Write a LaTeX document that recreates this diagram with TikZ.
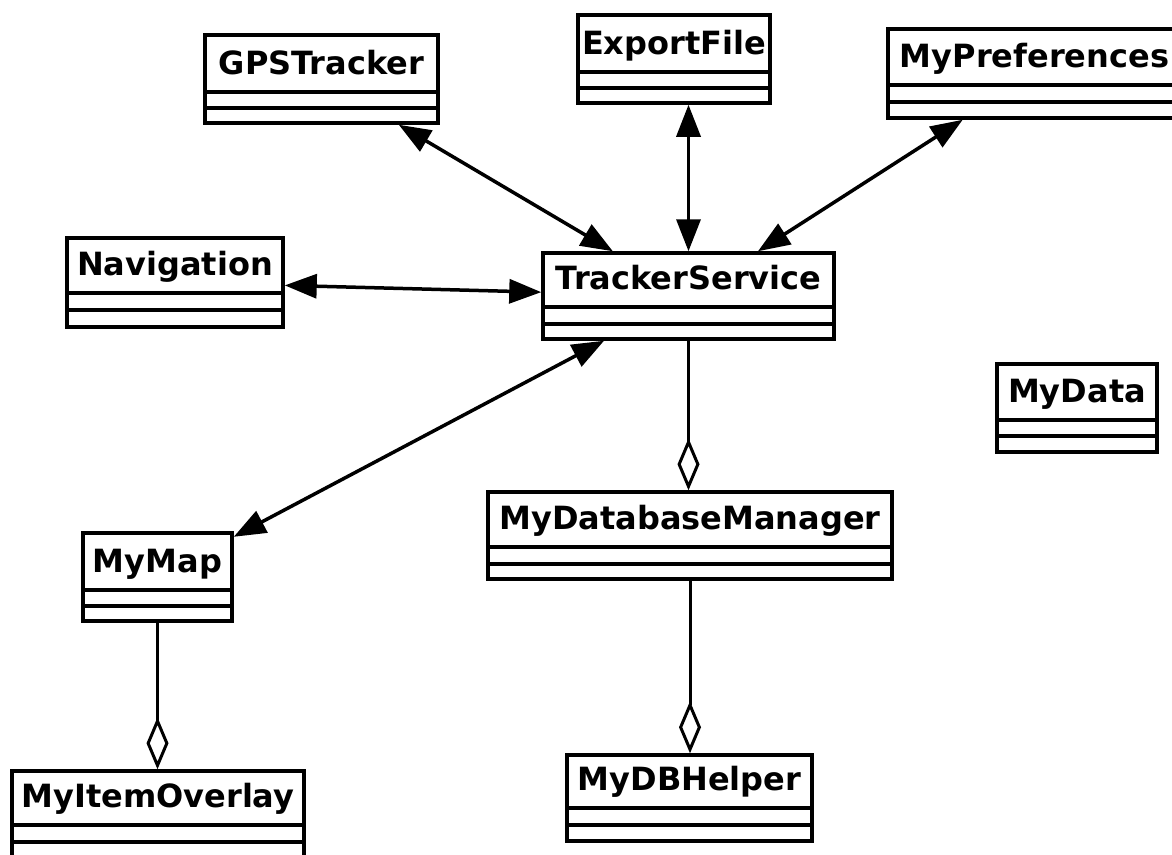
\documentclass[tikz,border=0pt]{standalone}
\usepackage{fontspec}
\setmainfont{DejaVu Sans}
\usetikzlibrary{arrows.meta,fit,calc}
\tikzset{
  classbox/.style={draw, line width=3.5pt, inner sep=0pt, fill=white},
  classname/.style={font=\bfseries\fontsize{32}{32}\selectfont, anchor=base, inner sep=0pt},
  sepline/.style={line width=3.5pt},
  assoc/.style={line width=3.5pt,
    {Triangle[length=32pt 0,width=24pt 0]}-{Triangle[length=32pt 0,width=24pt 0]}},
  aggr/.style={line width=3pt, -{Diamond[length=52pt 0,width=22pt 0,fill=white]}},
}
% #1 name, #2 left, #3 top, #4 right, #5 bottom, #6 first separator, #7 second separator, #8 class name
\newcommand{\umlclass}[8]{%
  \coordinate (#1-nw) at (#2,#3);
  \coordinate (#1-se) at (#4,#5);
  \node[classbox, fit=(#1-nw)(#1-se)] (#1) {};
  \draw[sepline] (#1.west |- 0,#6) -- (#1.east |- 0,#6);
  \draw[sepline] (#1.west |- 0,#7) -- (#1.east |- 0,#7);
  \node[classname] (#1-name) at ({(#2+#4)/2},{#6-18}) {#8};
}
\begin{document}
\begin{tikzpicture}[x=1pt,y=-1pt]
  \useasboundingbox[fill=white] (0,0) rectangle (1172,854);
  \clip (0,0) rectangle (1172,854);

  \umlclass{gps}{205}{35}{438}{123}{92}{108}{GPSTracker}
  \umlclass{ef}{578}{15}{770}{103}{72}{88}{ExportFile}
  \umlclass{pref}{888}{29}{1181}{118}{85}{102}{MyPreferences}
  \umlclass{nav}{67}{238}{283}{327}{293}{310}{Navigation}
  \umlclass{ts}{543}{253}{834}{339}{307}{324}{TrackerService}
  \umlclass{data}{997}{364}{1157}{452}{420}{436}{MyData}
  \umlclass{mdm}{488}{492}{892}{579}{547}{564}{MyDatabaseManager}
  \umlclass{map}{83}{533}{232}{621}{590}{606}{MyMap}
  \umlclass{mio}{12}{771}{304}{870}{825}{842}{MyItemOverlay}
  \umlclass{dbh}{567}{755}{812}{841}{808}{825}{MyDBHelper}

  % associations with TrackerService
  \draw[assoc] (gps) -- (ts);
  \draw[assoc] (ef.south -| ts.north) -- (ts.north);
  \draw[assoc] (pref) -- (ts);
  \draw[assoc] (nav) -- (ts);
  \draw[assoc] (ts) -- (map);

  % aggregations
  \draw[aggr] (ts.south) -- (ts.south |- mdm.north);
  \draw[aggr] (mdm.south) -- (mdm.south |- dbh.north);
  \draw[aggr] (map.south) -- (map.south |- mio.north);
\end{tikzpicture}
\end{document}
